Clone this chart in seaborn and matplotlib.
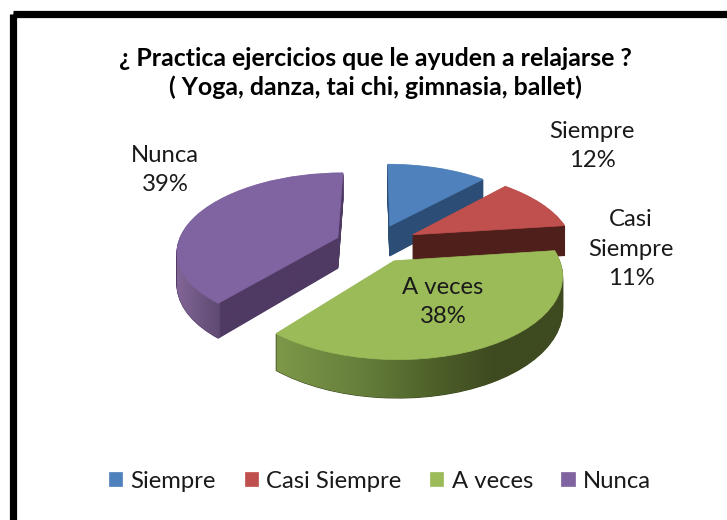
import numpy as np
import seaborn as sns
import matplotlib.pyplot as plt
from matplotlib.colors import LinearSegmentedColormap
from matplotlib.patches import Rectangle
from matplotlib.path import Path
from matplotlib.transforms import Transform

# data
categories = ['Siempre', 'Casi Siempre', 'A veces', 'Nunca']
values = [12, 11, 38, 39]
wrapped = ['Siempre', 'Casi\nSiempre', 'A veces', 'Nunca']
title = '¿ Practica ejercicios que le ayuden a relajarse ?\n( Yoga, danza, tai chi, gimnasia, ballet)'

top_colors = ['#4f81bd', '#c0504d', '#9bbb59', '#8064a2']
side_colors = ['#2c4d75', '#4f1f1c', '#3e4a20', '#4f3a63']
explode = [0.26, 0.27, 0.24, 0.25]

sns.set_theme(style='white')
plt.rcParams['font.family'] = ['Lato', 'DejaVu Sans']

# parametros de la vista 3D (pixeles)
CX, CY, A, B, P, DEPTH = 375, 244, 160, 77, 0.16, 31


class Persp(Transform):
    input_dims = 2
    output_dims = 2

    def __init__(self, dz=0):
        super().__init__()
        self.dz = dz

    def transform_non_affine(self, v):
        v = np.asarray(v, dtype=float)
        x, y = v[:, 0], v[:, 1]
        w = 1 + P * y
        return np.column_stack([CX + A * x / w, CY + (-B * y + self.dz) / w])


fig = plt.figure(figsize=(7.27, 5.2), dpi=100, facecolor='white')
ax = fig.add_axes([0, 0, 1, 1])

# orden de dibujo: de atras hacia adelante
rank = {0: 0, 1: 1, 3: 2, 2: 3}
layers = {i: [] for i in range(4)}

for dz in range(DEPTH, 0, -1):
    wedges, _ = ax.pie(values, explode=explode, startangle=90, counterclock=False,
                       colors=side_colors)
    for i, w in enumerate(wedges):
        w.set_transform(Persp(dz) + ax.transData)
        w.set_edgecolor(side_colors[i])
        w.set_linewidth(0.8)
        w.set_zorder(rank[i] * 10)
        layers[i].append(Persp(dz).transform_path(w.get_path()))

handles, _ = ax.pie(values, explode=explode, startangle=90, counterclock=False,
                    colors=top_colors)
for i, w in enumerate(handles):
    w.set_transform(Persp(0) + ax.transData)
    w.set_edgecolor(top_colors[i])
    w.set_linewidth(0.5)
    w.set_zorder(rank[i] * 10 + 2)

# degradados de los lados
ramps = {
    2: (270, 570, [(0, '#7f9a4a'), (0.3, '#667f3b'), (0.55, '#4d6029'), (0.75, '#3e4a20'), (1, '#3e4a20')]),
    3: (170, 345, [(0, '#86699c'), (0.28, '#5f4b72'), (0.29, '#4f3a63'), (1, '#4f3a63')]),
}
for i, (x0, x1, stops) in ramps.items():
    cmap = LinearSegmentedColormap.from_list('side', stops)
    im = ax.imshow(np.linspace(0, 1, 256)[None, :], cmap=cmap, aspect='auto',
                   extent=(x0, x1, 420, 150), zorder=rank[i] * 10 + 1)
    im.set_clip_path(Path.make_compound_path(*layers[i]), ax.transData)

ax.set_aspect('auto')
ax.set_xlim(0, 727)
ax.set_ylim(520, 0)
ax.set_axis_on()
for s in ax.spines.values():
    s.set_visible(False)
ax.set_xticks([])
ax.set_yticks([])

# marco negro
ax.add_patch(Rectangle((12.5, 13.5), 760, 560, fill=False, ec='black', lw=5.2, zorder=50))

ax.text(375, 73, title, ha='center', va='center', fontsize=17.9, fontweight='bold',
        color='black', linespacing=1.3, zorder=60)

# etiquetas de datos
label_pos = [(592, 146), (631, 249), (443, 302), (165, 170)]
for name, v, (x, y) in zip(wrapped, values, label_pos):
    ax.text(x, y, f'{name}\n{v}%', ha='center', va='center', fontsize=17.2,
            color='#1a1a1a', linespacing=1.5, zorder=60)

ax.legend(handles, categories, ncol=4, loc='center', bbox_to_anchor=(380, 481),
          bbox_transform=ax.transData, frameon=False, fontsize=17.2, handlelength=0.55,
          handleheight=0.55, handletextpad=0.35, columnspacing=1.2, labelcolor='#1a1a1a')

sns.despine(ax=ax, left=True, bottom=True)
fig.savefig('out.png', dpi=100)
